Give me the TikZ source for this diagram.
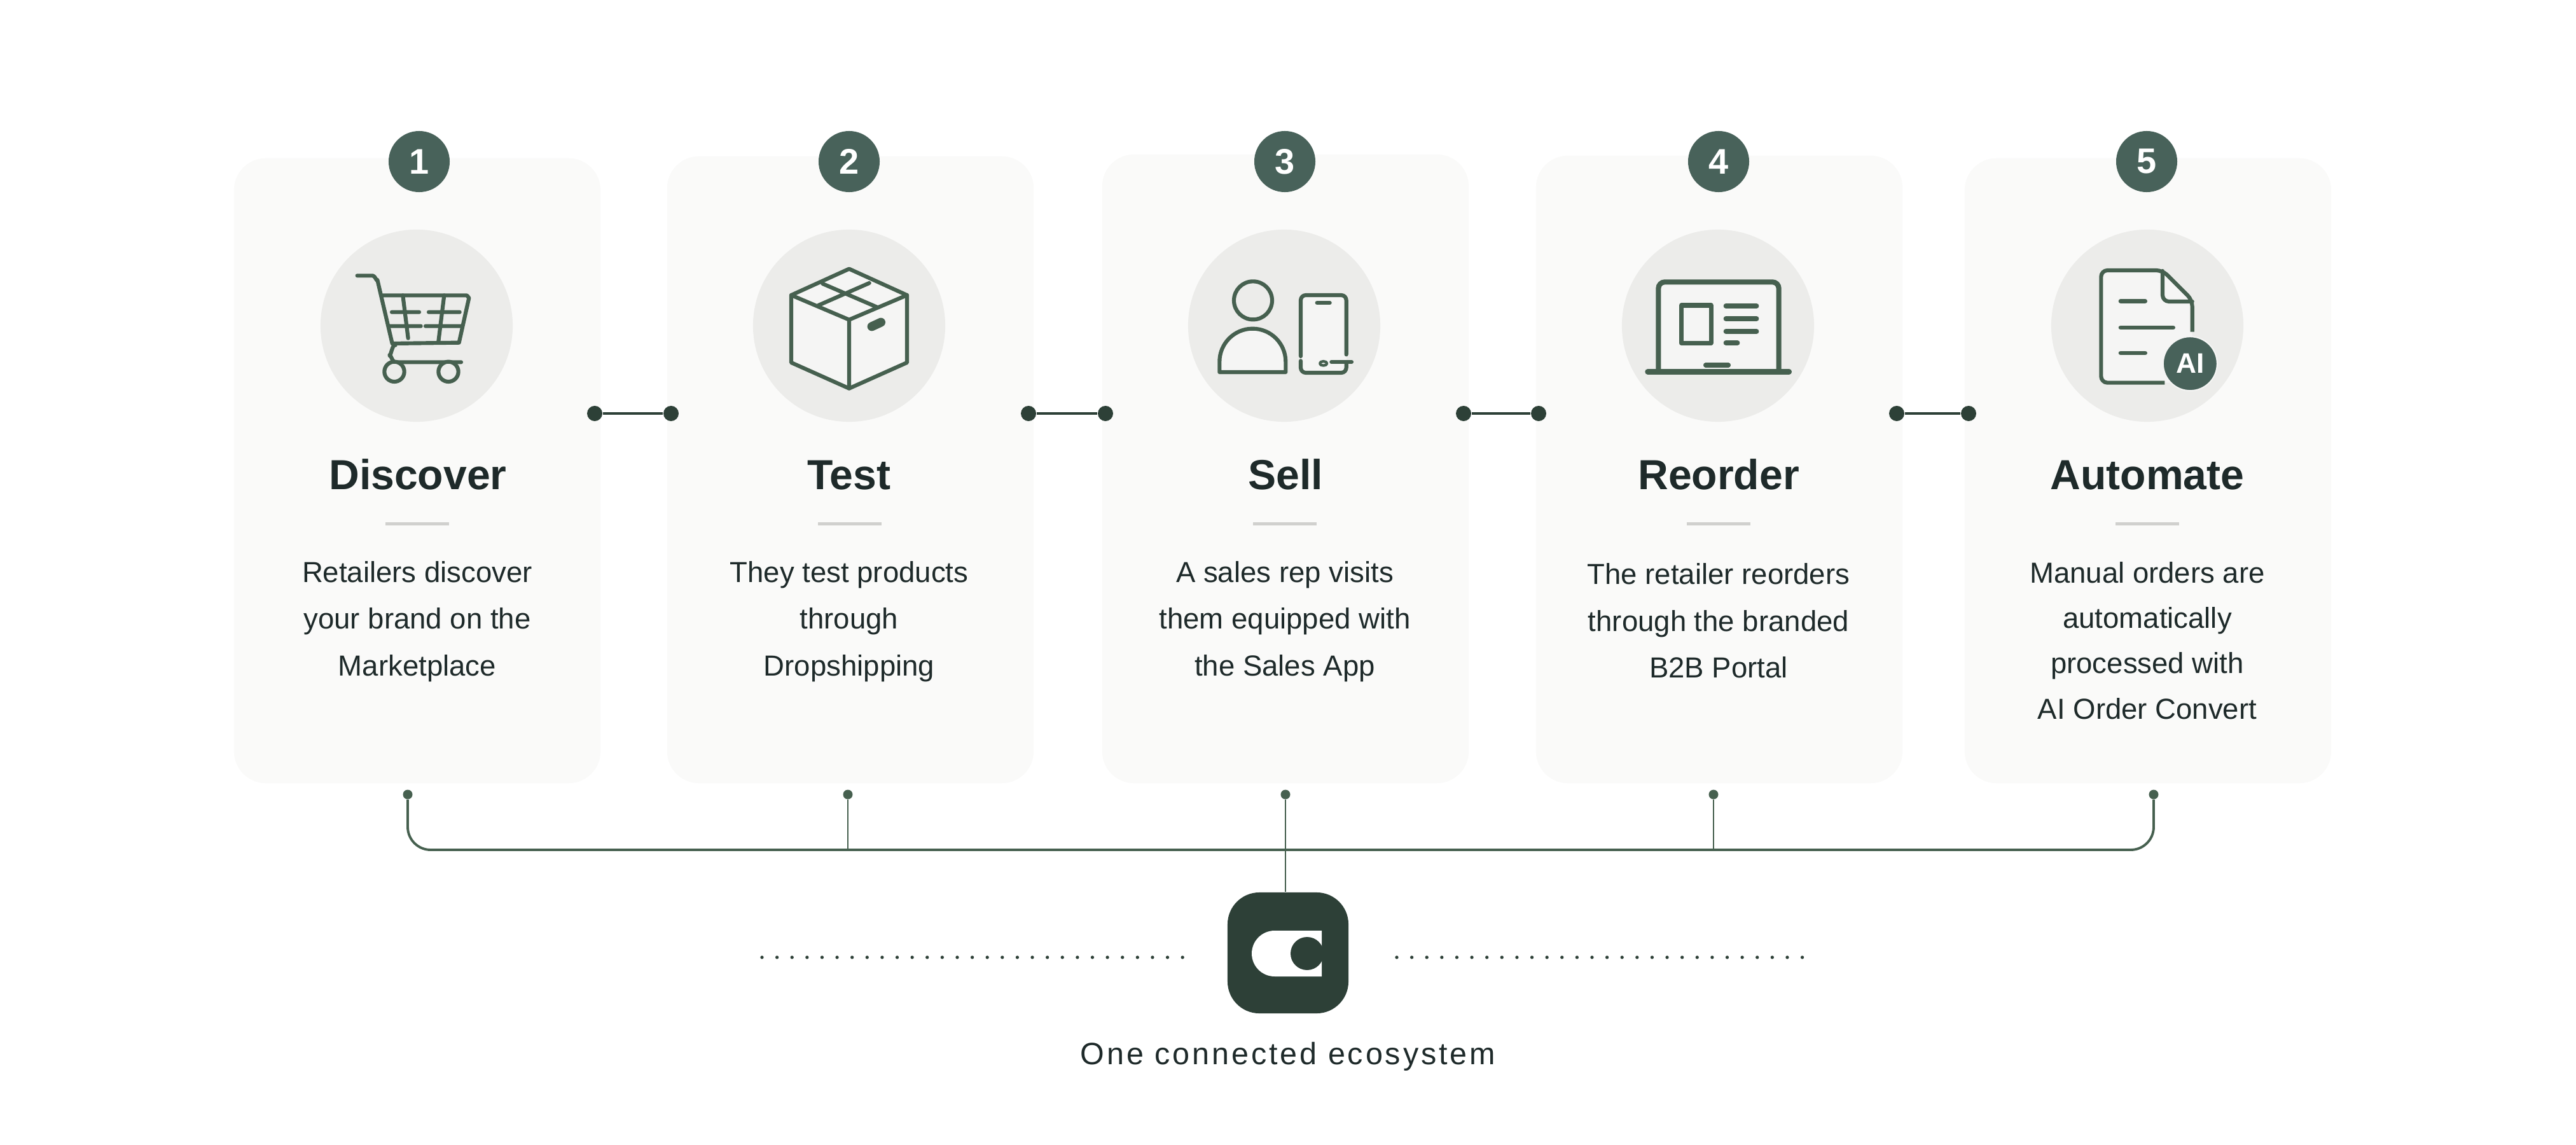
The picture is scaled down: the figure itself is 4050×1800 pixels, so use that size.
\documentclass[tikz,border=0pt]{standalone}
\usepackage{fontspec}
\setmainfont{Liberation Sans}
\usepackage{tikz}
\usetikzlibrary{positioning}
\usetikzlibrary{calc}
\definecolor{cardcol}{HTML}{FAFAF9}
\definecolor{discol}{HTML}{ECECEA}
\definecolor{facecol}{HTML}{F5F5F4}
\definecolor{iconcol}{HTML}{46604F}
\definecolor{badgecol}{HTML}{48625A}
\definecolor{darkcol}{HTML}{2D4037}
\definecolor{inkcol}{HTML}{1E2A2A}
\definecolor{rulecol}{HTML}{D0D0CE}
\newcommand{\headsize}{\fontsize{18.8}{22}\selectfont\bfseries}
\newcommand{\bodysize}{\fontsize{12.95}{20.9}\selectfont}

\begin{document}
\begin{tikzpicture}[x=0.01cm,y=-0.01cm,
  card/.style={rectangle,rounded corners=0.5cm,fill=cardcol,minimum width=5.76cm,inner sep=0},
  badge/.style={circle,fill=badgecol,text=white,minimum size=0.96cm,inner sep=0,font=\fontsize{15.9}{18}\selectfont\bfseries},
  disc/.style={circle,fill=discol,minimum size=3.02cm,inner sep=0},
  head/.style={anchor=base,text=inkcol,font=\headsize},
  body/.style={align=center,text=inkcol,font=\bodysize},
  rulebar/.style={rectangle,fill=rulecol,minimum width=1cm,minimum height=0.05cm,inner sep=0},
  bigdot/.style={circle,fill=darkcol,minimum size=0.24cm,inner sep=0},
  tinydot/.style={circle,fill=iconcol,minimum size=0.15cm,inner sep=0},
  link/.style={draw=darkcol,line width=1.1pt},
  bus/.style={draw=iconcol,line width=1.1pt},
  stem/.style={draw=iconcol,line width=0.8pt},
  icon/.style={draw=iconcol,line width=1.75pt,line join=round,line cap=round},
  facefill/.style={fill=facecol},
  dotrow/.style={draw=darkcol,line width=1.5pt,line cap=round,dash pattern=on 0pt off 0.236cm}]
\useasboundingbox (0,0) rectangle (4050,1800);

% cards and numbers
\path (656,740) node (Dc) [card,minimum height=9.82cm] {}
      (1337,738.5) node (Tc) [card,minimum height=9.85cm] {}
      (2021,737) node (Sc) [card,minimum height=9.88cm] {}
      (2703,738) node (Rc) [card,minimum height=9.86cm] {}
      (3377,740) node (Ac) [card,minimum height=9.82cm] {};

\path (659,254) node (Dn) [badge] {1}
      (1335,254) node (Tn) [badge] {2}
      (2020,254) node (Sn) [badge] {3}
      (2702,254) node (Rn) [badge] {4}
      (3375,254) node (An) [badge] {5};

\path (655,512) node (Di) [disc] {}
      (1335,512) node (Ti) [disc] {}
      (2019,512) node (Si) [disc] {}
      (2701,512) node (Ri) [disc] {}
      (3376,512) node (Ai) [disc] {};

\path (657,769) node (Dt) [head] {Discover}
      (1335,769) node (Tt) [head] {Test}
      (2021,769) node (St) [head] {Sell}
      (2702,769) node (Rt) [head] {Reorder}
      (3376,769) node (At) [head] {Automate};

\path (656,823) node (Dr) [rulebar] {}
      (1336,823) node (Tr) [rulebar] {}
      (2020,823) node (Sr) [rulebar] {}
      (2702,823) node (Rr) [rulebar] {}
      (3376,823) node (Ar) [rulebar] {};

\path (656,977) node (Db) [body] {Retailers discover\\your brand on the\\Marketplace}
      (1335,977) node (Tb) [body] {They test products\\through\\Dropshipping}
      (2020,977) node (Sb) [body] {A sales rep visits\\them equipped with\\the Sales App}
      (2702,976) node (Rb) [body] {The retailer reorders\\through the branded\\B2B Portal}
      (3376,1007) node (Ab) [body,font=\fontsize{12.95}{20.3}\selectfont] {Manual orders are\\automatically\\processed with\\AI Order Convert};

% cart
\begin{scope}[shift={(480,340)},scale=1/3]
\draw [icon] (245,280) -- (318,280) to[out=0,in=-105] (340,300) -- (410,600) -- (725,596)
      -- (772,385) to[out=-80,in=0] (760,373) -- (360,373);
\draw [icon] (460,373) -- (485,575)
      (655,373) -- (628,590)
      (408,452) -- (537,452)
      (582,452) -- (728,452)
      (395,518) -- (545,518)
      (567,518) -- (738,518);
\draw [icon] (425,608) to[out=120,in=-90] (398,655) to[out=90,in=180] (425,688) -- (735,688);
\draw [icon,fill=discol] (420,733) circle [radius=47];
\draw [icon,fill=discol] (675,733) circle [radius=47];
\end{scope}

% box
\begin{scope}[shift={(1160,340)},scale=1/3]
\draw [icon,facefill] (525,248) -- (798,372) -- (798,690) -- (525,812) -- (252,690) -- (252,372) -- cycle;
\draw [icon] (252,372) -- (525,488) -- (798,372)
      (525,488) -- (525,812)
      (400,318) -- (660,430)
      (620,315) -- (380,420);
\draw [icon,line width=4pt] (632,520) -- (675,500);
\end{scope}

% person and phone
\begin{scope}[shift={(1840,340)},scale=1/3]
\draw [icon] (390,397) circle [radius=90];
\draw [icon,facefill] (232,735) -- (232,686) arc [start angle=180,end angle=360,radius=156] -- (544,735) -- cycle;
\fill [facecol] (618,375) rectangle (830,735);
\draw [icon,rounded corners=0.08cm] (615,660) -- (615,372) -- (830,372) -- (830,652);
\draw [icon,rounded corners=0.08cm] (615,682) -- (615,738) -- (830,738) -- (830,692);
\draw [icon] (760,687) -- (855,687)
      (692,408) -- (752,408);
\draw [icon,line width=1.2pt] (722,694) ellipse [x radius=17,y radius=10];
\end{scope}

% laptop
\begin{scope}[shift={(2530,340)},scale=1/3]
\fill [facecol] (232,310) rectangle (800,730);
\draw [icon,line width=2.3pt,rounded corners=0.1cm] (232,730) -- (232,310) -- (800,310) -- (800,730);
\draw [icon,line width=2.5pt] (182,733) -- (848,733);
\draw [icon,line width=2pt] (340,420) rectangle (480,598);
\draw [icon,line width=2.1pt] (550,423) -- (695,423)
      (550,483) -- (695,483)
      (550,543) -- (695,543)
      (550,597) -- (605,597)
      (455,702) -- (562,702);
\end{scope}

% document
\begin{scope}[shift={(3200,340)},scale=1/3]
\fill [facecol] (312,258) -- (600,258) -- (740,395) -- (740,785) -- (312,785) -- cycle;
\draw [icon,line cap=butt,rounded corners=0.1cm] (740,545) -- (740,395) -- (600,255) -- (310,255) -- (310,785) -- (610,785);
\draw [icon,rounded corners=0.1cm] (600,258) -- (600,402) -- (740,402);
\draw [icon,line width=1.9pt] (402,400) -- (518,400)
      (402,525) -- (650,525)
      (402,645) -- (518,645);
\node (Aq) at (730,695) [circle,fill=badgecol,draw=facecol,line width=0.6pt,text=white,minimum size=0.85cm,inner sep=0,font=\fontsize{12.6}{14}\selectfont\bfseries] {AI};
\end{scope}

% links between the cards
\path (935,650) node (La) [bigdot] {}
      (1055,650) node (Lb) [bigdot] {}
      (1617,650) node (Lc) [bigdot] {}
      (1738,650) node (Ld) [bigdot] {}
      (2301,650) node (Le) [bigdot] {}
      (2419,650) node (Lf) [bigdot] {}
      (2982,650) node (Lg) [bigdot] {}
      (3095,650) node (Lh) [bigdot] {};

\draw [link] (La) edge (Lb)
      (Lc) edge (Ld)
      (Le) edge (Lf)
      (Lg) edge (Lh);

% bus down to the logo
\path (641,1249) node (Sa) [tinydot] {}
      (1333,1249) node (Sb2) [tinydot] {}
      (2021,1249) node (Sc2) [tinydot] {}
      (2694,1249) node (Sd) [tinydot] {}
      (3386,1249) node (Se) [tinydot] {};
\coordinate (Bus) at (2021,1336);
\coordinate (Lo) at (1198,1505);
\coordinate (Lp) at (1864,1505);
\coordinate (Lq) at (2196,1505);
\coordinate (Lr) at (2834,1505);

\path (2025,1498) node (Logo) [rectangle,rounded corners=0.5cm,fill=darkcol,minimum size=1.9cm,inner sep=0] {};
\fill [white] (2078,1463) -- (2004,1463) arc [start angle=270,end angle=90,radius=36] -- (2078,1535) -- cycle;
\fill [darkcol] (2055,1499) circle [radius=26];

\draw [bus,rounded corners=0.36cm] (Sa) -- (Sa |- Bus) -- (Se |- Bus) -- (Se);
\draw [stem] (Sb2) edge (Sb2 |- Bus)
      (Sd) edge (Sd |- Bus)
      (Sc2) edge (Sc2 |- Logo.north);

\draw [dotrow] (Lo) -- (Lp);
\draw [dotrow] (Lq) -- (Lr);

\path (2025,1673) node (Cap) [anchor=base,text=inkcol,font=\fontsize{13.8}{16}\selectfont\addfontfeature{LetterSpace=8}] {One connected ecosystem};

\end{tikzpicture}
\end{document}
